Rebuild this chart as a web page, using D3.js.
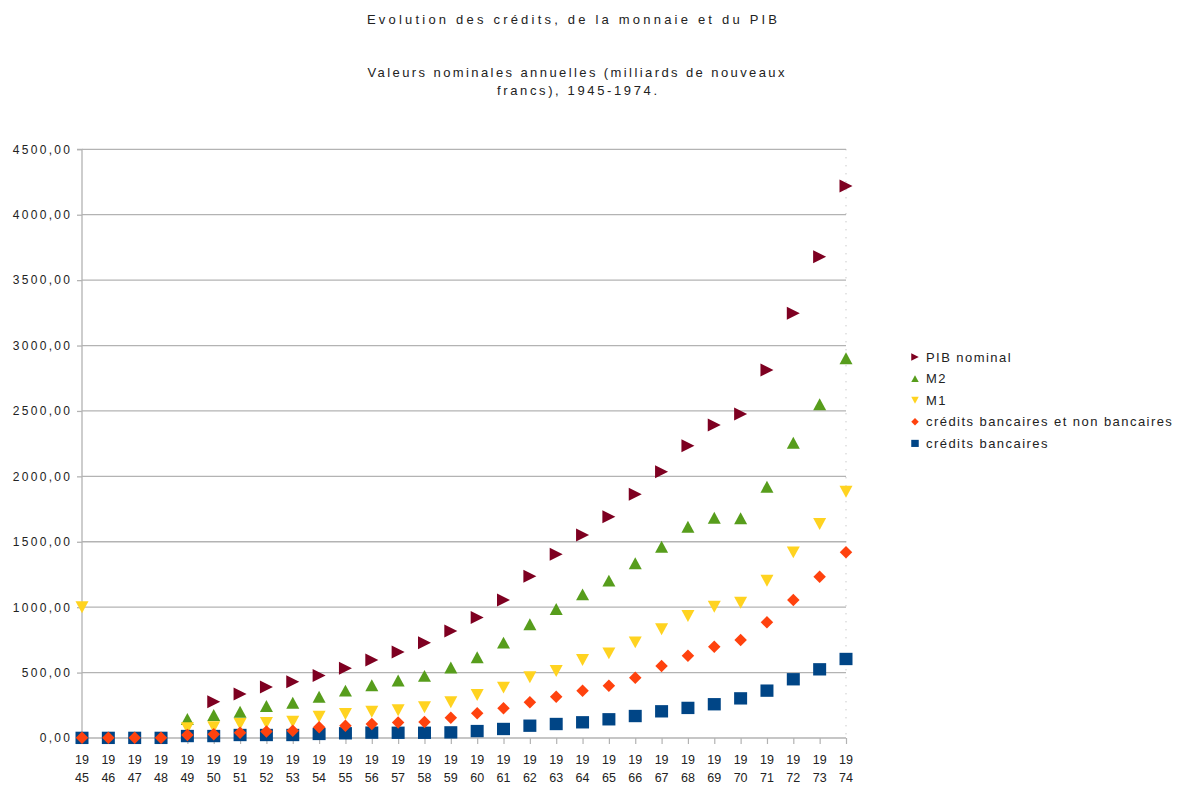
<!DOCTYPE html>
<html>
<head>
<meta charset="utf-8">
<script src="https://cdn.jsdelivr.net/npm/d3@7"></script>
<style>
  body { margin: 0; background: #fff; }
  svg { display: block; font-family: "Liberation Sans", Arial, sans-serif; }
</style>
</head>
<body>
<div id="chart"></div>
<script>
// Années (catégories)
const years = d3.range(1945, 1975);

// Séries (milliards de nouveaux francs)
const pibNominal = [null, null, null, null, null, 278, 336, 390, 430, 478, 533, 596, 658, 729, 818,
  922, 1055, 1236, 1404, 1552, 1692, 1863, 2036, 2234, 2393, 2477, 2813, 3246, 3679, 4219];
const m2 = [null, null, null, null, 145, 176, 201, 245, 270, 316, 362, 403, 440, 475, 539,
  617, 729, 869, 986, 1098, 1203, 1335, 1462, 1615, 1684, 1679, 1921, 2257, 2551, 2902];
const m1 = [1000, null, null, null, 74, 82, 107, 115, 125, 163, 183, 201, 212, 235, 274,
  329, 385, 464, 512, 596, 647, 731, 831, 933, 1004, 1034, 1202, 1419, 1636, 1883];
const creditsTotal = [2, 2, 2, 2, 23, 28, 41, 50, 56, 82, 94, 107, 118, 123, 155,
  189, 227, 273, 316, 362, 400, 461, 550, 629, 698, 749, 884, 1055, 1233, 1419];
const creditsBancaires = [1, 1, 1, 1, 15, 15, 23, 23, 23, 31, 36, 41, 40, 40, 43,
  53, 69, 94, 107, 120, 143, 168, 204, 230, 258, 303, 362, 449, 525, 604];

const yTicks = [0, 500, 1000, 1500, 2000, 2500, 3000, 3500, 4000, 4500];

// Ordre de la légende
const series = [
  { name: 'PIB nominal', values: pibNominal, color: '#7e0021', shape: 'right' },
  { name: 'M2', values: m2, color: '#579d1c', shape: 'up' },
  { name: 'M1', values: m1, color: '#ffd320', shape: 'down' },
  { name: 'crédits bancaires et non bancaires', values: creditsTotal, color: '#ff420e', shape: 'diamond' },
  { name: 'crédits bancaires', values: creditsBancaires, color: '#004586', shape: 'square' }
];
// Ordre de dessin (du fond vers le dessus)
const drawOrder = ['PIB nominal', 'M2', 'M1', 'crédits bancaires', 'crédits bancaires et non bancaires'];

const W = 1179, H = 787;
const plot = { left: 82, right: 846, top: 149.3, bottom: 738 };

const svg = d3.select('#chart').append('svg')
  .attr('width', W)
  .attr('height', H);

const x = d3.scalePoint().domain(years).range([plot.left, plot.right]);
const y = d3.scaleLinear().domain([0, 4500]).range([plot.bottom, plot.top]);

// Forme des symboles, centrés sur le point
function symbolPath(shape, s) {
  const h = s / 2;
  switch (shape) {
    case 'square': return `M${-h},${-h * 0.95}H${h}V${h * 0.95}H${-h}Z`;
    case 'diamond': return `M0,${-h}L${h},0L0,${h}L${-h},0Z`;
    case 'up': return `M0,${-h * 0.92}L${h},${h * 0.92}L${-h},${h * 0.92}Z`;
    case 'down': return `M0,${h * 0.92}L${h},${-h * 0.92}L${-h},${-h * 0.92}Z`;
    case 'right': return `M${h},0L${-h},${-h}L${-h},${h}Z`;
  }
}
const markSize = { square: 13, diamond: 12.5, up: 13, down: 13, right: 13 };

// Titres
svg.append('text')
  .attr('x', 572).attr('y', 24)
  .attr('text-anchor', 'middle')
  .attr('textLength', 410).attr('lengthAdjust', 'spacing')
  .style('font-size', '13px').style('fill', '#222')
  .text('Evolution des crédits, de la monnaie et du PIB');

svg.append('text')
  .attr('x', 576).attr('y', 77)
  .attr('text-anchor', 'middle')
  .attr('textLength', 417).attr('lengthAdjust', 'spacing')
  .style('font-size', '13px').style('fill', '#222')
  .text('Valeurs nominales annuelles (milliards de nouveaux');

svg.append('text')
  .attr('x', 577).attr('y', 95)
  .attr('text-anchor', 'middle')
  .attr('textLength', 160).attr('lengthAdjust', 'spacing')
  .style('font-size', '13px').style('fill', '#222')
  .text('francs), 1945-1974.');

// Grille horizontale
svg.append('g')
  .selectAll('line')
  .data(yTicks)
  .enter().append('line')
  .attr('x1', plot.left).attr('x2', plot.right)
  .attr('y1', d => y(d)).attr('y2', d => y(d))
  .attr('stroke', '#b3b3b3')
  .attr('stroke-width', 1.3);

// Bord droit (pointillé)
svg.append('line')
  .attr('x1', plot.right).attr('x2', plot.right)
  .attr('y1', plot.top).attr('y2', plot.bottom)
  .attr('stroke', '#b3b3b3')
  .attr('stroke-width', 1)
  .attr('stroke-dasharray', '1,7');

// Axe Y
const yAxis = svg.append('g')
  .attr('transform', `translate(${plot.left},0)`)
  .call(d3.axisLeft(y).tickValues(yTicks).tickSize(5).tickPadding(10)
    .tickFormat(d => d3.format('.2f')(d).replace('.', ',')));
yAxis.select('.domain').attr('stroke', '#b3b3b3').attr('stroke-width', 1.3)
  .attr('d', `M-5,${y(4500)}H0V${plot.bottom + 6}`);
yAxis.selectAll('.tick line').attr('stroke', '#b3b3b3').attr('stroke-width', 1.3);
yAxis.selectAll('.tick text')
  .style('font-size', '12px')
  .style('letter-spacing', '2.3px')
  .style('fill', '#222')
  .attr('x', -9.7);

// Axe X
const xAxis = svg.append('g')
  .attr('transform', `translate(0,${plot.bottom})`)
  .call(d3.axisBottom(x).tickSize(6).tickFormat(''));
xAxis.select('.domain').remove();
xAxis.selectAll('.tick line').attr('stroke', '#b3b3b3').attr('stroke-width', 1.2);

const xLabels = svg.append('g')
  .selectAll('text')
  .data(years)
  .enter().append('text')
  .attr('x', d => x(d))
  .attr('text-anchor', 'middle')
  .style('font-size', '12.5px')
  .style('fill', '#222');
xLabels.append('tspan').attr('x', d => x(d)).attr('y', 764).text(d => String(d).slice(0, 2));
xLabels.append('tspan').attr('x', d => x(d)).attr('y', 782).text(d => String(d).slice(2));

// Points
drawOrder.forEach(name => {
  const s = series.find(d => d.name === name);
  const pts = years.map((yr, i) => ({ year: yr, value: s.values[i] })).filter(d => d.value != null);
  svg.append('g')
    .selectAll('path')
    .data(pts)
    .enter().append('path')
    .attr('transform', d => `translate(${x(d.year)},${y(d.value)})`)
    .attr('d', symbolPath(s.shape, markSize[s.shape]))
    .attr('fill', s.color);
});

// Légende
const legend = svg.append('g')
  .attr('transform', 'translate(915,357)');

const legendItems = legend.selectAll('g')
  .data(series)
  .enter().append('g')
  .attr('transform', (d, i) => `translate(0,${i * 21.6})`);

legendItems.append('path')
  .attr('d', d => symbolPath(d.shape, 7.5))
  .attr('fill', d => d.color);

legendItems.append('text')
  .attr('x', 11)
  .attr('y', 4.5)
  .style('font-size', '13px')
  .style('letter-spacing', '1.45px')
  .style('fill', '#222')
  .text(d => d.name);
</script>
</body>
</html>
